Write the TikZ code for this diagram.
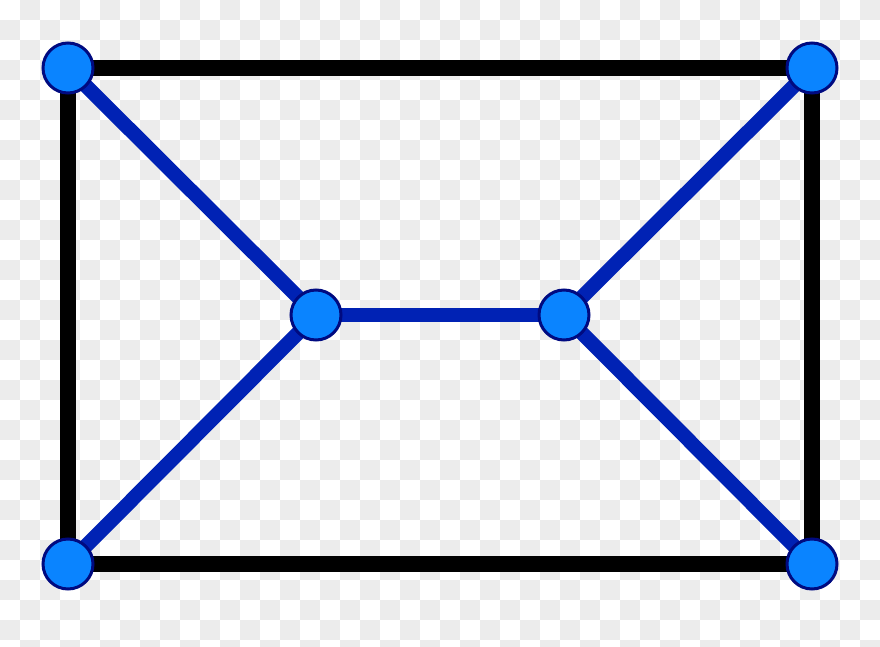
\documentclass[tikz,border=0pt]{standalone}
\definecolor{checkgray}{HTML}{ECECEC}
\definecolor{edgeblue}{HTML}{0022B4}
\definecolor{vertfill}{HTML}{0A84FF}
\definecolor{vertline}{HTML}{000A80}
\tikzset{
  vertex/.style={circle, fill=vertfill, draw=vertline, line width=3pt, minimum size=50pt, inner sep=0pt},
  frameedge/.style={black, line width=16pt},
  blueedge/.style={edgeblue, line width=14.5pt}
}
\begin{document}
\begin{tikzpicture}[x=1pt,y=-1pt]
\useasboundingbox (0,0) rectangle (880,647);
\fill[white] (0,0) rectangle (880,647);
\begin{scope}
\clip (0,0) rectangle (880,647);
\foreach \j in {0,...,32}{
  \pgfmathtruncatemacro\s{mod(\j+1,2)}
  \foreach \i in {0,2,...,44}{
    \fill[checkgray] ({(\i+\s)*20},{\j*20}) rectangle ++(20,20);
  }
}
\end{scope}
\coordinate (tl) at (68,68);
\coordinate (tr) at (812,68);
\coordinate (bl) at (68,564);
\coordinate (br) at (812,564);
\coordinate (ml) at (316,315);
\coordinate (mr) at (564,315);
\draw[frameedge] (tl) -- (tr) -- (br) -- (bl) -- cycle;
\draw[blueedge] (tl) -- (ml);
\draw[blueedge] (bl) -- (ml);
\draw[blueedge] (ml) -- (mr);
\draw[blueedge] (tr) -- (mr);
\draw[blueedge] (br) -- (mr);
\node[vertex] (ntl) at (tl) {};
\node[vertex] (ntr) at (tr) {};
\node[vertex] (nbl) at (bl) {};
\node[vertex] (nbr) at (br) {};
\node[vertex] (nml) at (ml) {};
\node[vertex] (nmr) at (mr) {};
\end{tikzpicture}
\end{document}
